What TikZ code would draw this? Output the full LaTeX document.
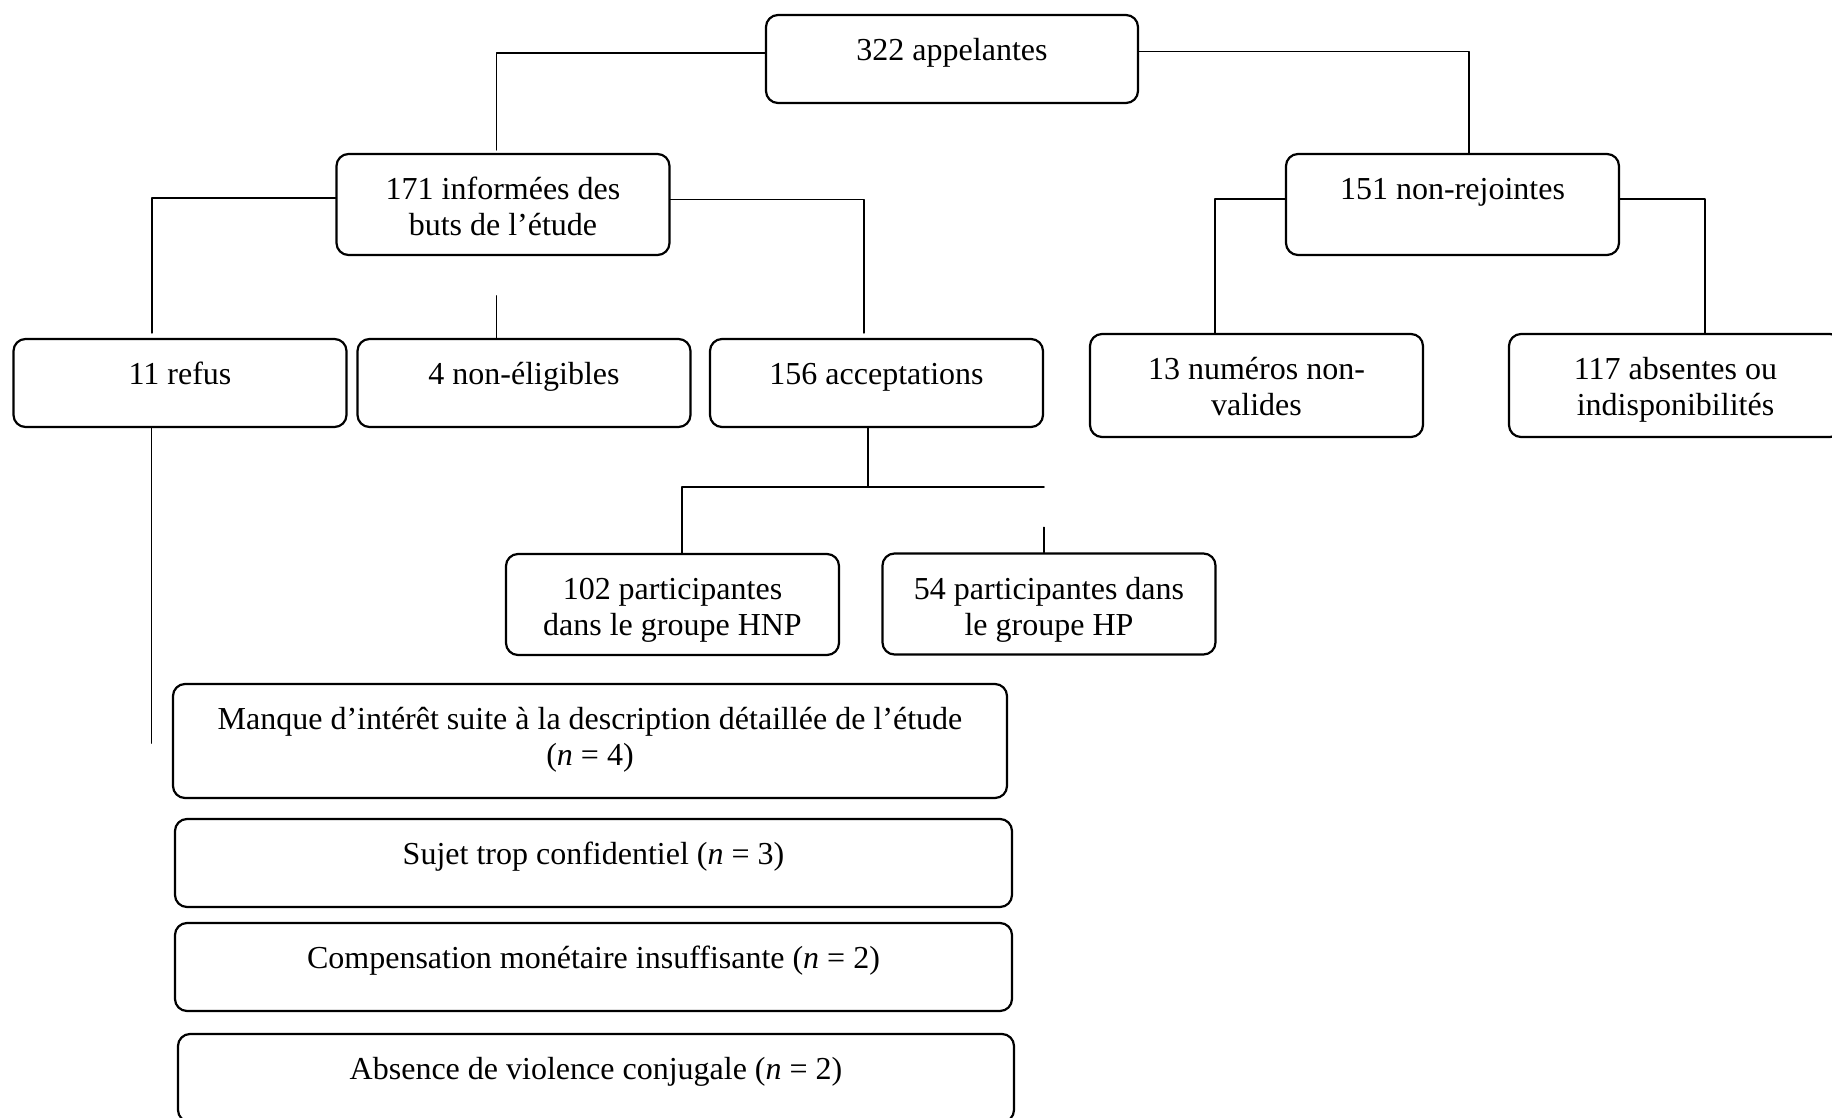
\documentclass[tikz,border=0pt]{standalone}
\usepackage{fontspec}
\setmainfont{Liberation Serif}
\begin{document}
\begin{tikzpicture}[x=0.5pt, y=-0.5pt, line join=round, line cap=round,
  box/.style={draw, line width=1.1pt, rounded corners=6pt, align=center, inner sep=0pt,
    minimum width=166.5pt, text height=22.8pt, text depth=#1, font=\fontsize{16}{18}\selectfont},
  box/.default=21.2pt,
  tall/.style={text height=40.8pt},
  link/.style={line width=0.8pt}]
 \useasboundingbox (0,0) rectangle (1832,1118);
 % boxes
 \node[box, minimum width=186pt] (app) at (952,59) {322 appelantes};
 \node[box=9.7pt, tall] (info) at (503,204.5) {171 informées des\\buts de l’étude};
 \node[box=27.7pt] (nonrej) at (1452.5,204.5) {151 non-rejointes};
 \node[box] (refus) at (180,383) {11 refus};
 \node[box] (nonelig) at (524,383) {4 non-éligibles};
 \node[box] (accept) at (876.5,383) {156 acceptations};
 \node[box=10.7pt, tall] (numeros) at (1256.5,385.5) {13 numéros non-\\valides};
 \node[box=10.7pt, tall] (absentes) at (1675.5,385.5) {117 absentes ou\\indisponibilités};
 \node[box=9.7pt, tall] (hnp) at (672.5,604.5) {102 participantes\\dans le groupe HNP};
 \node[box=9.7pt, tall] (hp) at (1049,604) {54 participantes dans\\le groupe HP};
 \node[box=16.2pt, tall, minimum width=417pt] (manque) at (590,741) {Manque d’intérêt suite à la description détaillée de l’étude\\(\textit{n} = 4)};
 \node[box, minimum width=418.5pt] (sujet) at (593.5,863) {Sujet trop confidentiel (\textit{n} = 3)};
 \node[box, minimum width=418.5pt] (comp) at (593.5,967) {Compensation monétaire insuffisante (\textit{n} = 2)};
 \node[box, minimum width=418pt] (absence) at (596,1078) {Absence de violence conjugale (\textit{n} = 2)};
 % links
 \draw[link] ([yshift=3pt]app.west) -| ([xshift=-3.25pt,yshift=1.5pt]info.north);
 \draw[link] ([yshift=3.75pt]app.east) -| ([xshift=8.25pt]nonrej.north);
 \draw[link] ([yshift=3.25pt]info.west) -| ([xshift=-14pt,yshift=2.5pt]refus.north);
 \draw[link] ([yshift=2.5pt]info.east) -| ([xshift=-6.25pt,yshift=2.5pt]accept.north);
 \draw[link] ([xshift=-13.75pt]nonelig.north) -- ++(0,21pt);
 \draw[link] ([yshift=2.75pt]nonrej.west) -| ([xshift=-20.75pt]numeros.north);
 \draw[link] ([yshift=2.75pt]nonrej.east) -| ([xshift=14.75pt]absentes.north);
 \draw[link] ([xshift=-4.25pt]accept.south) -- ++(0,-29.5pt) coordinate (split);
 \path (hp.north) ++(-2.5pt,0) coordinate (hptop);
 \draw[link] ([xshift=4.75pt]hnp.north) |- (split) -- (split -| hptop);
 \draw[link] (hptop) -- ++(0,12.5pt);
 \draw[link] ([xshift=-14.25pt]refus.south) -- ++(0,-157.5pt) coordinate (refusend);
\end{tikzpicture}
\end{document}
